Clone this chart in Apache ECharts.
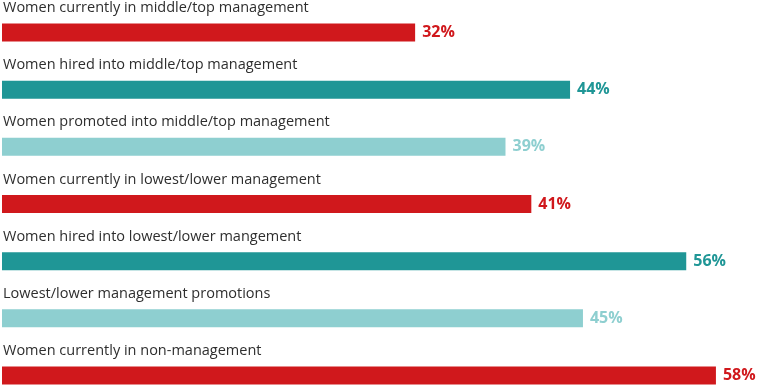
<!DOCTYPE html>
<html><head><meta charset="utf-8">
<script src="https://cdn.jsdelivr.net/npm/echarts@6/dist/echarts.min.js"></script>
<style>html,body{margin:0;padding:0;background:#fff}#c{width:768px;height:390px}</style>
</head><body><div id="c"></div>
<script>
const categories = [
  'Women currently in middle/top management',
  'Women hired into middle/top management',
  'Women promoted into middle/top management',
  'Women currently in lowest/lower management',
  'Women hired into lowest/lower mangement',
  'Lowest/lower management promotions',
  'Women currently in non-management'
];
// percentages printed next to each bar
const percentages = [32, 44, 39, 41, 56, 45, 58];
// bar lengths as drawn in the picture (the two longest bars are drawn shortened)
const barLengths = [32, 44, 39, 41, 53, 45, 55.3];
const colors = ['#d0181c', '#1f9696', '#8ecfd0', '#d0181c', '#1f9696', '#8ecfd0', '#d0181c'];

const chart = echarts.init(document.getElementById('c'));
const font = '"Open Sans", Lato, sans-serif';
chart.setOption({
  animation: false,
  grid: { left: 2, top: 32.5, width: 761.7, height: 343 },
  xAxis: { type: 'value', min: 0, max: 59, show: false },
  yAxis: { type: 'category', data: categories, boundaryGap: false, inverse: true, show: false },
  series: [
    {
      type: 'bar',
      barWidth: 18,
      data: barLengths.map((v, i) => ({ value: v, itemStyle: { color: colors[i] } })),
      label: {
        show: true,
        position: [1, -8],
        verticalAlign: 'bottom',
        formatter: p => categories[p.dataIndex],
        fontFamily: font,
        fontSize: 14.5,
        color: '#2e2e2e'
      }
    },
    {
      type: 'bar',
      barWidth: 18,
      barGap: '-100%',
      silent: true,
      itemStyle: { color: 'transparent' },
      data: barLengths.map((v, i) => ({ value: v, label: { color: colors[i] } })),
      label: {
        show: true,
        position: 'right',
        distance: 7,
        formatter: p => percentages[p.dataIndex] + '%',
        fontFamily: font,
        fontWeight: 'bold',
        fontSize: 16
      }
    }
  ]
});
</script></body></html>
